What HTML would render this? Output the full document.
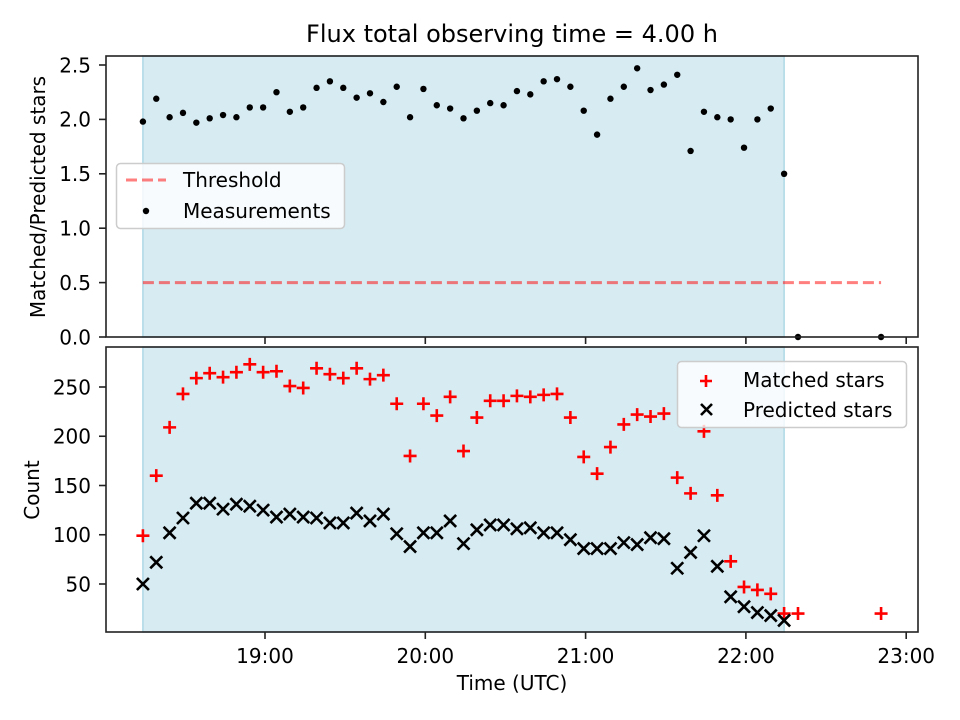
<!DOCTYPE html>
<html><head><meta charset="utf-8"><style>
html,body{margin:0;padding:0;background:#fff;}
svg{display:block;font-family:"DejaVu Sans","Liberation Sans",sans-serif;}
</style></head><body>
<svg id="c" width="960" height="720" viewBox="0 0 960 720"></svg>
<script>
const times = [14.3,19.3,24.3,29.3,34.3,39.3,44.3,49.3,54.3,59.3,64.3,69.3,74.3,79.3,84.3,89.3,94.3,99.3,104.3,109.3,114.3,119.3,124.3,129.3,134.3,139.3,144.3,149.3,154.3,159.3,164.3,169.3,174.3,179.3,184.3,189.3,194.3,199.3,204.3,209.3,214.3,219.3,224.3,229.3,234.3,239.3,244.3,249.3,254.3,259.5,290.6];
const ratio = [1.98,2.19,2.02,2.06,1.97,2.01,2.04,2.02,2.11,2.11,2.25,2.07,2.11,2.29,2.35,2.29,2.20,2.24,2.16,2.30,2.02,2.28,2.13,2.10,2.01,2.08,2.15,2.13,2.26,2.23,2.35,2.37,2.30,2.08,1.86,2.19,2.30,2.47,2.27,2.32,2.41,1.71,2.07,2.02,2.00,1.74,2.00,2.10,1.50,0,0];
const matched = [99,160,209,243,259,264,260,265,273,265,266,251,249,269,263,259,269,258,262,233,180,233,221,240,185,219,236,236,241,240,242,243,219,179,162,189,212,222,220,223,158,142,205,140,73,47,44,40,20,20,20];
const predicted = [50,72,102,117,132,132,126,131,129,125,118,121,118,117,112,112,122,114,121,101,88,102,102,114,91,105,110,110,106,107,102,102,95,86,86,86,92,90,97,96,66,82,99,68,37,27,21,18,13];
const topTicks = [0.0,0.5,1.0,1.5,2.0,2.5];
const botTicks = [50,100,150,200,250];
const xTicks = [60,120,180,240,300];
const xTickLabels = ["19:00","20:00","21:00","22:00","23:00"];
const threshold = 0.5;
const shadeStart = 14.3, shadeEnd = 254.3, thrEnd = 290.6;

const svg = document.getElementById('c');
const NS = 'http://www.w3.org/2000/svg';
function mk(tag, attrs, parent){const e=document.createElementNS(NS,tag);for(const k in attrs)e.setAttribute(k,attrs[k]);(parent||svg).appendChild(e);return e;}
const L=106,R=918,T1=56,B1=337,T2=347,B2=632;
const FS=20;
const xs = m => 265 + (m-60)*160.3/60;
const y1 = v => 337 - v*108.8;
const y2 = v => 584 - (v-50)*0.985;

let t = mk('text',{x:512,y:42,'text-anchor':'middle','font-size':24});
t.textContent='Flux total observing time = 4.00 h';



function panel(T,B,name){
  const g=mk('g',{});
  
  
  const s=mk('rect',{x:xs(shadeStart),y:T,width:xs(shadeEnd)-xs(shadeStart),height:B-T,fill:'#add8e6','fill-opacity':0.5,stroke:'#add8e6','stroke-width':1.5},g);
  
  
  return g;
}
function frame(T,B,g){mk('rect',{x:L,y:T,width:R-L,height:B-T,fill:'none',stroke:'#222','stroke-width':1.6},g);}
function xticks(B,g,labels){
  xTicks.forEach((m,i)=>{const x=xs(m);mk('line',{x1:x,x2:x,y1:B,y2:B+7,stroke:'#222','stroke-width':1.6},g);
    if(labels){const tt=mk('text',{x:x,y:B+31,'text-anchor':'middle','font-size':FS},g);tt.textContent=xTickLabels[i];
      
      }});
}

const g1=panel(T1,B1,'ratio-panel');
const thr=mk('line',{x1:xs(shadeStart),x2:xs(thrEnd),y1:y1(threshold),y2:y1(threshold),stroke:'#ff0000','stroke-opacity':0.5,'stroke-width':3,'stroke-dasharray':'11,5'},g1);


ratio.forEach((v,i)=>{const c=mk('circle',{cx:xs(times[i]),cy:y1(v),r:3.2,fill:'#000'},g1);
  
  });
frame(T1,B1,g1);
topTicks.forEach(v=>{const y=y1(v);mk('line',{x1:L-7,x2:L,y1:y,y2:y,stroke:'#222','stroke-width':1.6},g1);
  const tt=mk('text',{x:L-15,y:y+7.3,'text-anchor':'end','font-size':FS},g1);tt.textContent=v.toFixed(1);
  
  });
xticks(B1,g1,false);
t=mk('text',{x:45,y:197,'text-anchor':'middle','font-size':FS,transform:'rotate(-90 45 197)'});
t.textContent='Matched/Predicted stars';


const lg1=mk('g',{});


mk('rect',{x:116.5,y:163.5,width:228,height:65,rx:4,fill:'#fff','fill-opacity':0.8,stroke:'#ccc','stroke-width':1.5},lg1);
mk('line',{x1:126,x2:166,y1:180,y2:180,stroke:'#ff0000','stroke-opacity':0.5,'stroke-width':3,'stroke-dasharray':'11,5'},lg1);
t=mk('text',{x:183,y:187,'font-size':FS},lg1);t.textContent='Threshold';
mk('circle',{cx:146,cy:211,r:3.2,fill:'#000'},lg1);
t=mk('text',{x:183,y:218,'font-size':FS},lg1);t.textContent='Measurements';

const g2=panel(T2,B2,'count-panel');
matched.forEach((v,i)=>{const x=xs(times[i]),y=y2(v);
  const p=mk('path',{d:`M${x-6.5},${y}H${x+6.5}M${x},${y-6.5}V${y+6.5}`,stroke:'#ff0000','stroke-width':2.6,fill:'none'},g2);
  
  });
predicted.forEach((v,i)=>{const x=xs(times[i]),y=y2(v);
  const p=mk('path',{d:`M${x-6},${y-6}L${x+6},${y+6}M${x-6},${y+6}L${x+6},${y-6}`,stroke:'#000','stroke-width':2.6,fill:'none'},g2);
  
  });
frame(T2,B2,g2);
botTicks.forEach(v=>{const y=y2(v);mk('line',{x1:L-7,x2:L,y1:y,y2:y,stroke:'#222','stroke-width':1.6},g2);
  const tt=mk('text',{x:L-15,y:y+7.3,'text-anchor':'end','font-size':FS},g2);tt.textContent=v;
  
  });
xticks(B2,g2,true);
t=mk('text',{x:39,y:490,'text-anchor':'middle','font-size':FS,transform:'rotate(-90 39 490)'});
t.textContent='Count';


t=mk('text',{x:512,y:690,'text-anchor':'middle','font-size':FS});
t.textContent='Time (UTC)';


const lg2=mk('g',{});


mk('rect',{x:677.5,y:361.5,width:229,height:66,rx:4,fill:'#fff','fill-opacity':0.8,stroke:'#ccc','stroke-width':1.5},lg2);
mk('path',{d:'M700,381H712M706,375V387',stroke:'#ff0000','stroke-width':2.6},lg2);
t=mk('text',{x:743,y:387,'font-size':FS},lg2);t.textContent='Matched stars';
mk('path',{d:'M701,404L712,415M701,415L712,404',stroke:'#000','stroke-width':2.6},lg2);
t=mk('text',{x:743,y:417,'font-size':FS},lg2);t.textContent='Predicted stars';
</script>
</body></html>
